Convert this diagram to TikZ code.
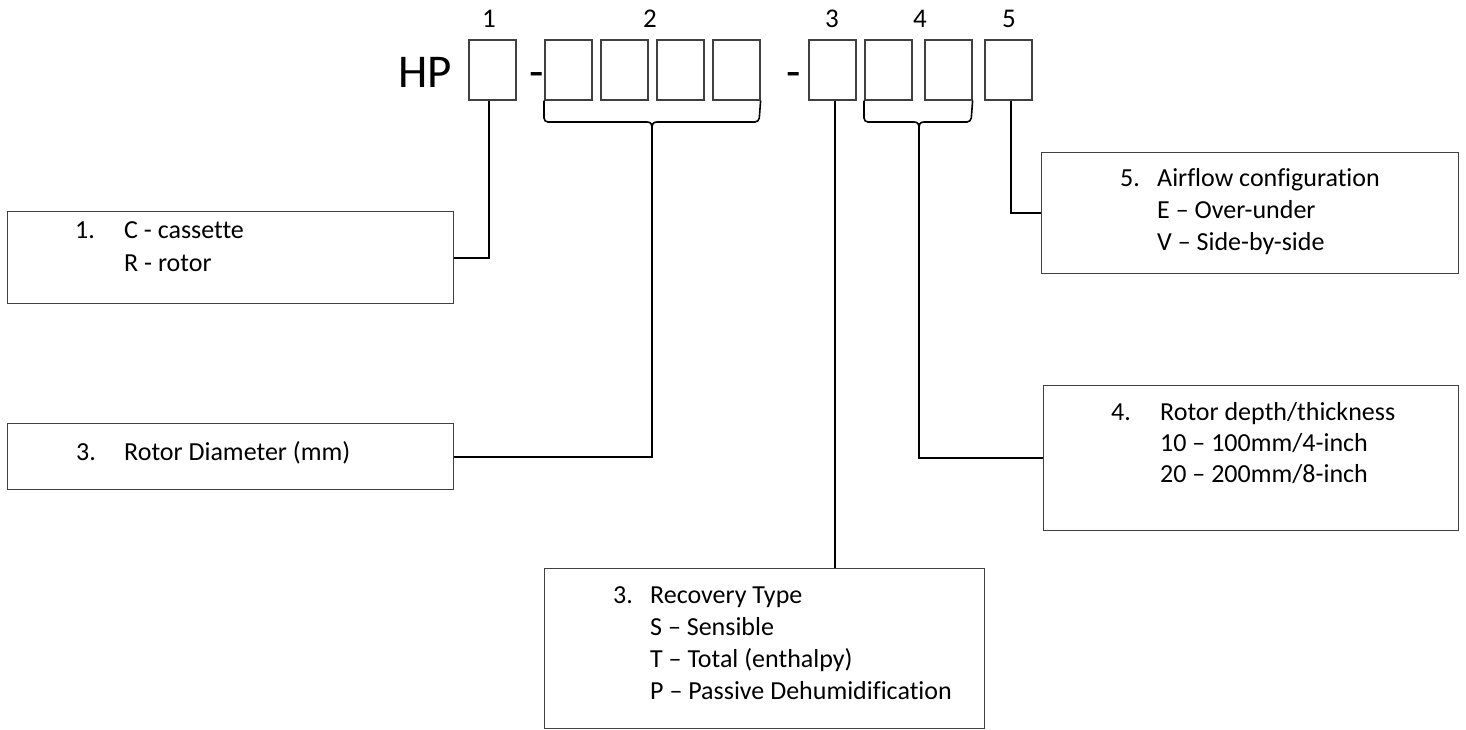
\documentclass[tikz,border=0pt]{standalone}
\usepackage{fontspec}
\setmainfont{Carlito}[Ligatures={TeX,NoCommon}]
\begin{document}
\begin{tikzpicture}[x=1pt,y=-1pt,
  cell/.style={draw=black!75,line width=1.6pt,minimum width=47pt,minimum height=60pt,anchor=north west,inner sep=0pt},
  tbox/.style={draw=black!75,line width=1.2pt,anchor=north west,inner sep=0pt},
  conn/.style={draw=black,line width=2pt},
  brc/.style={draw=black,line width=1.6pt,rounded corners=4pt},
  bline/.style={draw=black,line width=1.6pt},
  lbl/.style={anchor=base,inner sep=0pt,font=\fontsize{27}{30}\selectfont},
  txt/.style={anchor=base west,inner sep=0pt,font=\fontsize{26}{30}\selectfont},
  big/.style={anchor=base west,inner sep=0pt,font=\fontsize{47}{54}\selectfont}]
\useasboundingbox (0,0) rectangle (1466,729);
% code row
\node[big] (hp) at (398,87) {HP};
\node[cell] (k1) at (468,39) {};
\node[big] (d1) at (529,87) {-};
\node[cell] (k2a) at (544,39) {};
\node[cell] (k2b) at (600,39) {};
\node[cell] (k2c) at (656,39) {};
\node[cell] (k2d) at (712,39) {};
\node[big] (d2) at (786,87) {-};
\node[cell] (k3) at (808,39) {};
\node[cell] (k4a) at (864,39) {};
\node[cell] (k4b) at (924,39) {};
\node[cell] (k5) at (984,39) {};
\node[lbl] (n1) at (489,27) {1};
\node[lbl] (n2) at (650,27) {2};
\node[lbl] (n3) at (832,27) {3};
\node[lbl] (n4) at (920,27) {4};
\node[lbl] (n5) at (1009,27) {5};
% braces
\coordinate (tip2) at (652,147);
\coordinate (tip4) at (919,145);
\draw[brc] (k2a.south west) -- (544,122) -- (647,122);
\draw[brc] (k2d.south east) -- (759,122) -- (657,122);
\draw[bline] (647,122) .. controls (651,122) and (652,124) .. (652,129) -- (tip2);
\draw[bline] (657,122) .. controls (653,122) and (652,124) .. (652,129);
\draw[brc] (k4a.south west) -- (864,122) -- (914,122);
\draw[brc] (k4b.south east) -- (971,122) -- (924,122);
\draw[bline] (914,122) .. controls (918,122) and (919,124) .. (919,129) -- (tip4);
\draw[bline] (924,122) .. controls (920,122) and (919,124) .. (919,129);
% text boxes
\node[tbox,minimum width=446pt,minimum height=92pt] (b1) at (7,211) {};
\node[txt] (b1n) at (75,238) {1.};
\node[txt] (b1a) at (124,238) {C - cassette};
\node[txt] (b1b) at (124,271) {R - rotor};
\node[tbox,minimum width=446pt,minimum height=66pt] (b2) at (7,423) {};
\node[txt] (b2n) at (76,460) {3.};
\node[txt] (b2a) at (124,460) {Rotor Diameter (mm)};
\node[tbox,minimum width=440pt,minimum height=160pt] (b3) at (544,568) {};
\node[txt] (b3n) at (613,603) {3.};
\node[txt] (b3a) at (650,603) {Recovery Type};
\node[txt] (b3b) at (650,635) {S – Sensible};
\node[txt] (b3c) at (650,667) {T – Total (enthalpy)};
\node[txt] (b3d) at (650,699) {P – Passive Dehumidification};
\node[tbox,minimum width=415pt,minimum height=145pt] (b4) at (1043,385) {};
\node[txt] (b4n) at (1111,420) {4.};
\node[txt] (b4a) at (1160,420) {Rotor depth/thickness};
\node[txt] (b4b) at (1160,451) {10 – 100mm/4-inch};
\node[txt] (b4c) at (1160,482) {20 – 200mm/8-inch};
\node[tbox,minimum width=417pt,minimum height=121pt] (b5) at (1041,152) {};
\node[txt] (b5n) at (1120,186) {5.};
\node[txt] (b5a) at (1157,186) {Airflow configuration};
\node[txt] (b5b) at (1157,218) {E – Over-under};
\node[txt] (b5c) at (1157,250) {V – Side-by-side};
% connectors
\draw[conn] ([xshift=-3pt]k1.south) |- (b1.east);
\draw[conn] (tip2) |- (b2.east);
\draw[conn] ([xshift=3pt]k3.south) -- ([xshift=3pt]k3.south |- b3.north);
\draw[conn] (tip4) |- (b4.west);
\draw[conn] ([xshift=3pt]k5.south) |- (b5.west);
\end{tikzpicture}
\end{document}
